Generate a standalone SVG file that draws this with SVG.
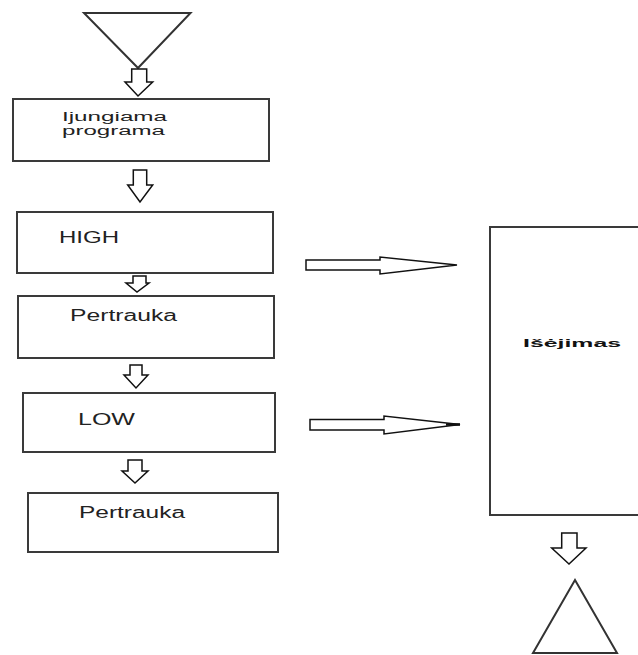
<svg xmlns="http://www.w3.org/2000/svg" width="638" height="655" viewBox="0 0 638 655">
<style>
.box{fill:#fff;stroke:#3a3a3a;stroke-width:2}
.arr{fill:#fff;stroke:#111;stroke-width:1.5;stroke-linejoin:miter}
.tri{fill:#fff;stroke:#333;stroke-width:2}
.t{font-family:"Liberation Sans",Arial,sans-serif;font-size:16px;fill:#222}
.s{font-size:12.5px}
.b{font-family:"Liberation Sans",Arial,sans-serif;font-size:11px;font-weight:bold;fill:#111}
</style>
<rect width="638" height="655" fill="#fff"/>
<g id="start"><polygon class="tri" points="84,13 190.5,13 138,68"/></g>
<g id="n1"><rect class="box" x="13" y="99" width="256" height="62"/>
<text class="t s" x="62" y="121" textLength="105" lengthAdjust="spacingAndGlyphs">Ijungiama</text>
<text class="t s" x="62" y="135" textLength="103" lengthAdjust="spacingAndGlyphs">programa</text></g>
<g id="n2"><rect class="box" x="17" y="212" width="256" height="61"/>
<text class="t" x="59" y="243" textLength="60" lengthAdjust="spacingAndGlyphs">HIGH</text></g>
<g id="n3"><rect class="box" x="18" y="296" width="256" height="62"/>
<text class="t" x="70" y="321" textLength="107" lengthAdjust="spacingAndGlyphs">Pertrauka</text></g>
<g id="n4"><rect class="box" x="23" y="393" width="252" height="59"/>
<text class="t" x="78" y="425" textLength="57" lengthAdjust="spacingAndGlyphs">LOW</text></g>
<g id="n5"><rect class="box" x="28" y="493" width="250" height="59"/>
<text class="t" x="79" y="518" textLength="106" lengthAdjust="spacingAndGlyphs">Pertrauka</text></g>
<g id="out"><rect class="box" x="490" y="227" width="170" height="288"/>
<text class="b" x="523" y="347" textLength="98" lengthAdjust="spacingAndGlyphs">Išėjimas</text></g>
<g id="end"><polygon class="tri" points="575,580 617,653 533,653" stroke="#111"/></g>
<g id="connectors">
<polygon class="arr" points="131.7,69 146.7,69 146.7,82 152.7,82 138,96 125,82 131.7,82"/>
<polygon class="arr" points="133.3,170 146.7,170 146.7,185 152.7,185 140,202 127.7,185 133.3,185"/>
<polygon class="arr" points="133,276 146,276 146,283 149,283 137,292 126,283 133,283"/>
<polygon class="arr" points="130,365 142,365 142,375 148,375 136,388 124,375 130,375"/>
<polygon class="arr" points="128,460 142,460 142,471 148,471 135,483 122,471 128,471"/>
<polygon class="arr" points="561.7,533 577,533 577,548 586,548 569,564 551.7,548 561.7,548"/>
<polygon class="arr" points="306,260 380,260 380,257 457,265 380,274 380,270 306,270"/>
<polygon class="arr" points="310,419.5 384,419.5 384,416 460,424.5 384,434 384,430 310,430"/>
<line x1="446" y1="424.5" x2="460" y2="424.5" stroke="#111" stroke-width="2.5"/>
</g>
</svg>
